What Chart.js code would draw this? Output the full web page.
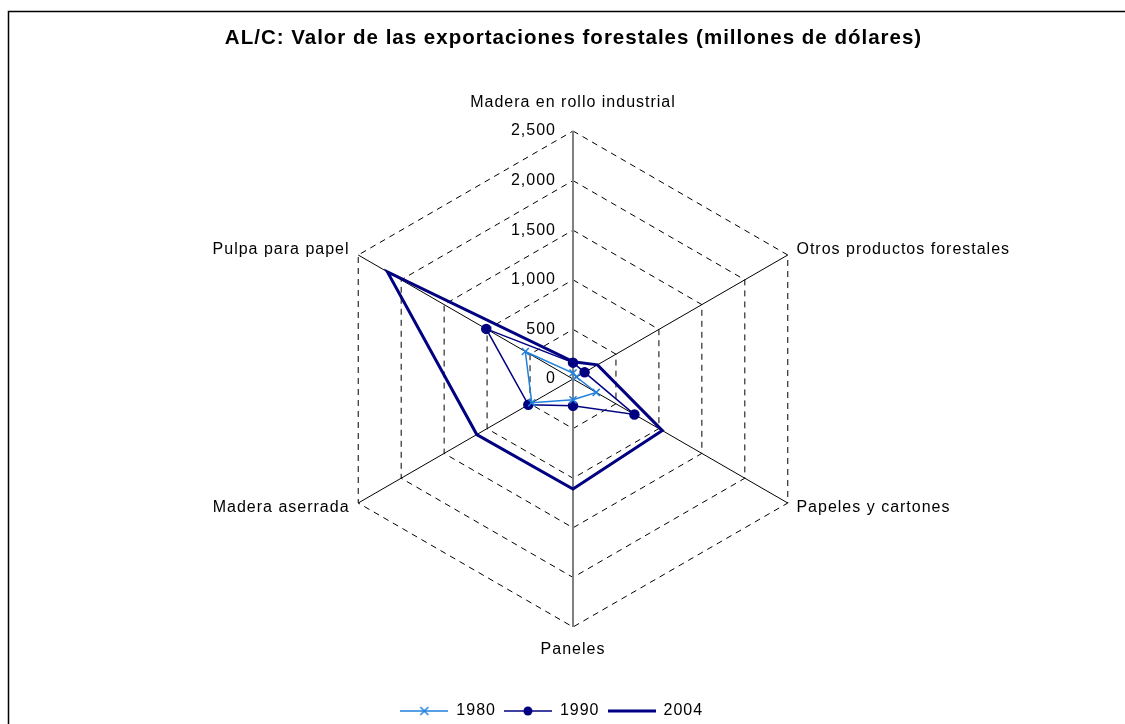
<!DOCTYPE html>
<html>
<head>
<meta charset="utf-8">
<script src="https://cdn.jsdelivr.net/npm/chart.js@4.4.1/dist/chart.umd.min.js"></script>
<style>
    html, body { margin: 0; padding: 0; background: #fff; }
    #wrap { width: 1125px; height: 724px; position: relative; }
</style>
</head>
<body>
<div id="wrap"><canvas id="canvas1"></canvas></div>
<script>
'use strict';

const categories = ['Madera en rollo industrial', 'Otros productos forestales', 'Papeles y cartones', 'Paneles', 'Madera aserrada', 'Pulpa para papel'];
const years = ['1980', '1990', '2004'];
const values1980 = [60, 40, 270, 210, 480, 555];
const values1990 = [165, 135, 715, 270, 520, 1010];
const values2004 = [175, 285, 1040, 1110, 1120, 2160];
const tickValues = [0, 500, 1000, 1500, 2000, 2500];

const fontFamily = '"Liberation Sans", Arial, sans-serif';
const lightBlue = '#1f80dd';
const navy = '#000080';

Chart.defaults.font.family = fontFamily;
Chart.defaults.color = '#000';

// small picture of line + marker for the legend
function legendImage(color, width, marker) {
    let c = document.createElement('canvas');
    c.width = 48;
    c.height = 16;
    let ctx = c.getContext('2d');
    ctx.strokeStyle = color;
    ctx.lineWidth = width;
    ctx.beginPath();
    ctx.moveTo(0, 8);
    ctx.lineTo(48, 8);
    ctx.stroke();
    if (marker == 'cross') {
        ctx.lineWidth = 1.5;
        ctx.beginPath();
        ctx.moveTo(20, 4); ctx.lineTo(28, 12);
        ctx.moveTo(28, 4); ctx.lineTo(20, 12);
        ctx.stroke();
    }
    if (marker == 'dot') {
        ctx.fillStyle = color;
        ctx.beginPath();
        ctx.arc(24, 8, 4.5, 0, Math.PI * 2);
        ctx.fill();
    }
    return c;
}

const legendImgs = [
    legendImage(lightBlue, 1.5, 'cross'),
    legendImage(navy, 1.5, 'dot'),
    legendImage(navy, 3, null),
];

// the original text is a little wider spaced
const spacing = {
    id: 'spacing',
    beforeLayout(chart) {
        chart.ctx.letterSpacing = '1px';
    },
    beforeDraw(chart) {
        chart.ctx.letterSpacing = '1px';
    }
};

const frame = {
    id: 'frame',
    beforeDraw(chart) {
        let ctx = chart.ctx;
        ctx.save();
        ctx.fillStyle = '#fff';
        ctx.fillRect(0, 0, chart.width, chart.height);
        ctx.strokeStyle = '#000';
        ctx.lineWidth = 1.5;
        ctx.beginPath();
        ctx.moveTo(8.5, chart.height);
        ctx.lineTo(8.5, 11.5);
        ctx.lineTo(chart.width, 11.5);
        ctx.stroke();
        ctx.restore();
    }
};

// value labels left of the vertical axis, category labels around the web
const axisText = {
    id: 'axisText',
    beforeDatasetsDraw(chart) {
        let r = chart.scales.r;
        let ctx = chart.ctx;
        ctx.save();
        ctx.letterSpacing = '1px';
        ctx.font = '16px ' + fontFamily;
        ctx.fillStyle = '#000';
        ctx.textAlign = 'right';
        ctx.textBaseline = 'middle';
        tickValues.forEach(v => {
            let p = r.getPointPositionForValue(0, v);
            ctx.fillText(v.toLocaleString('en-US'), p.x - 17, p.y);
        });

        let gap = [28, 10, 10, 23, 10, 10];
        categories.forEach((name, i) => {
            let p = r.getPointPosition(i, r.drawingArea + gap[i]);
            let dx = p.x - r.xCenter;
            if (Math.abs(dx) < 1) ctx.textAlign = 'center';
            else if (dx > 0) ctx.textAlign = 'left';
            else ctx.textAlign = 'right';
            ctx.fillText(name, p.x, p.y);
        });
        ctx.restore();
    }
};

let canvas1 = document.querySelector('#canvas1');

let chart1 = new Chart(canvas1, {
    type: 'radar',
    data: {
        labels: categories,
        datasets: [
            {
                label: years[0],
                data: values1980,
                borderColor: lightBlue,
                borderWidth: 1.5,
                pointStyle: 'crossRot',
                pointRadius: 5,
                pointBorderWidth: 1.5,
                pointBorderColor: lightBlue,
                fill: false,
            },
            {
                label: years[1],
                data: values1990,
                borderColor: navy,
                borderWidth: 1.5,
                pointStyle: 'circle',
                pointRadius: 4.5,
                pointBackgroundColor: navy,
                pointBorderColor: navy,
                fill: false,
            },
            {
                label: years[2],
                data: values2004,
                borderColor: navy,
                borderWidth: 3,
                pointRadius: 0,
                fill: false,
            },
        ],
    },
    options: {
        responsive: true,
        maintainAspectRatio: false,
        animation: false,
        layout: {
            padding: { left: 22, right: 0, top: 0, bottom: -5 },
        },
        scales: {
            r: {
                min: 0,
                max: 2500,
                ticks: { stepSize: 500, display: false },
                pointLabels: { display: false },
                grid: { color: '#000', lineWidth: 1 },
                border: { dash: [6, 5] },
                angleLines: {
                    color: ctx => (ctx.index == 0 || ctx.index == 3) ? '#808080' : '#000',
                    lineWidth: ctx => (ctx.index == 0 || ctx.index == 3) ? 2 : 1,
                },
            },
        },
        plugins: {
            title: {
                display: true,
                text: 'AL/C: Valor de las exportaciones forestales (millones de dólares)',
                color: '#000',
                font: { size: 20.5, weight: 'bold' },
                padding: { top: 26, bottom: 80.4 },
            },
            legend: {
                position: 'bottom',
                title: { display: true, text: '', font: { size: 10 }, padding: { top: 0, bottom: 56 } },
                labels: {
                    usePointStyle: true,
                    pointStyleWidth: 48,
                    padding: 8,
                    color: '#000',
                    font: { size: 16 },
                    // trailing blanks push the legend a bit left, as in the original
                    generateLabels: chart => chart.data.datasets.map((ds, i) => ({
                        text: i == 2 ? ds.label + '\u00a0'.repeat(8) : ds.label,
                        pointStyle: legendImgs[i],
                        datasetIndex: i,
                        hidden: false,
                        lineWidth: 0,
                        fillStyle: 'transparent',
                        strokeStyle: 'transparent',
                        fontColor: '#000',
                    })),
                },
            },
            tooltip: { enabled: false },
        },
    },
    plugins: [spacing, frame, axisText],
});
</script>
</body>
</html>
